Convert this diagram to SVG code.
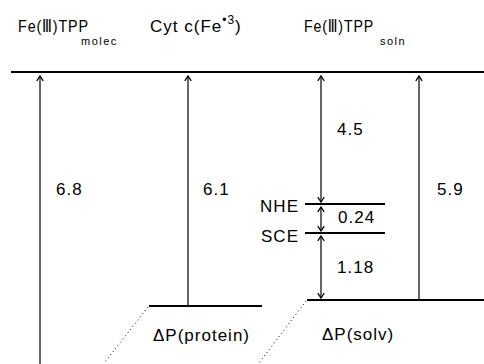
<svg xmlns="http://www.w3.org/2000/svg" width="484" height="364" viewBox="0 0 484 364">
<style>
text{font-family:"Liberation Sans","DejaVu Sans",sans-serif;font-size:17px;letter-spacing:1px;fill:#000}
.sub{font-size:11px;letter-spacing:1.5px}
.lvl{stroke:#000;stroke-width:2;fill:none}
.arr{stroke:#000;stroke-width:1.2;fill:none}
.dot{stroke:#000;stroke-width:1;stroke-dasharray:1 3;fill:none}
</style>
<defs>
<marker id="ah" viewBox="0 0 10 10" refX="9" refY="5" markerWidth="8" markerHeight="8" markerUnits="userSpaceOnUse" orient="auto-start-reverse">
<path d="M3,1 L9,5 L3,9" fill="none" stroke="#000" stroke-width="1.6"/>
</marker>
</defs>
<g id="titles">
<text x="18" y="32" letter-spacing="0" textLength="71" lengthAdjust="spacingAndGlyphs">Fe(Ⅲ)TPP</text>
<text class="sub" x="81" y="45">molec</text>
<text x="150" y="32">Cyt c(Fe<tspan font-size="12" dy="-8">•3</tspan><tspan dy="8">)</tspan></text>
<text x="304" y="32" letter-spacing="0" textLength="70" lengthAdjust="spacingAndGlyphs">Fe(Ⅲ)TPP</text>
<text class="sub" x="380" y="45" letter-spacing="1">soln</text>
</g>
<g id="levels">
<line class="lvl" x1="11" y1="72" x2="484" y2="72"/>
<line class="lvl" x1="149" y1="306" x2="262" y2="306"/>
<line class="lvl" x1="307" y1="300" x2="484" y2="300"/>
<line class="lvl" x1="305" y1="204" x2="385" y2="204"/>
<line class="lvl" x1="305" y1="233" x2="385" y2="233"/>
<text x="299" y="212" text-anchor="end" letter-spacing="0">NHE</text>
<text x="299" y="242" text-anchor="end" letter-spacing="0">SCE</text>
<text x="153" y="341" letter-spacing="3">ΔP(protein)</text>
<text x="322" y="340" letter-spacing="3.5">ΔP(solv)</text>
</g>
<g id="connectors">
<line class="arr" x1="40" y1="364" x2="40" y2="76" marker-end="url(#ah)"/>
<line class="arr" x1="188" y1="305" x2="188" y2="76" marker-end="url(#ah)"/>
<line class="arr" x1="419" y1="299" x2="419" y2="76" marker-end="url(#ah)"/>
<line class="arr" x1="321" y1="76" x2="321" y2="202" marker-start="url(#ah)" marker-end="url(#ah)"/>
<line class="arr" x1="321" y1="207" x2="321" y2="231" marker-start="url(#ah)" marker-end="url(#ah)"/>
<line class="arr" x1="321" y1="236" x2="321" y2="298" marker-start="url(#ah)" marker-end="url(#ah)"/>
<line class="dot" x1="148" y1="307" x2="105" y2="362"/>
<line class="dot" x1="306" y1="301" x2="259" y2="363"/>
</g>
<g id="labels">
<text x="56" y="195">6.8</text>
<text x="203" y="195">6.1</text>
<text x="337" y="135">4.5</text>
<text x="437" y="195">5.9</text>
<text x="338" y="223">0.24</text>
<text x="337" y="273">1.18</text>
</g>
</svg>
